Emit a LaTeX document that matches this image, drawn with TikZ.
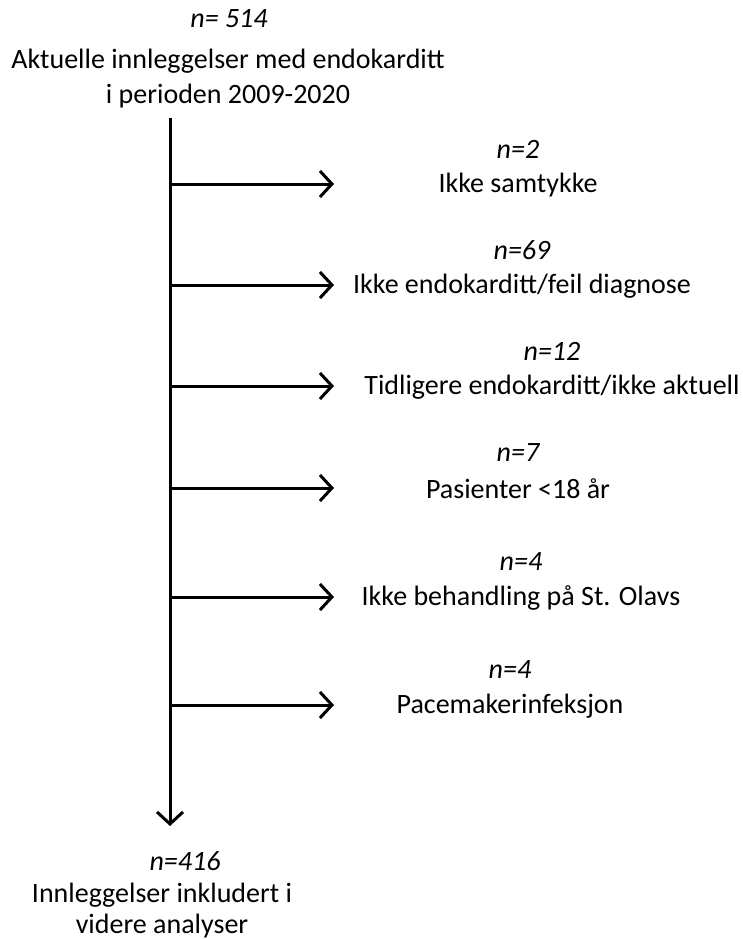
\documentclass[tikz,border=0pt]{standalone}
\usepackage{fontspec}
\setmainfont{Carlito}
\usetikzlibrary{arrows.meta}
\begin{document}
\begin{tikzpicture}[x=1pt,y=-1pt,
  lbl/.style={inner sep=0pt, font=\fontsize{28}{32}\selectfont, anchor=center},
  nlbl/.style={lbl, font=\fontsize{28}{32}\selectfont\itshape},
  flow/.style={line width=3pt, -{Straight Barb[length=12pt,width=26pt,line width=3pt]}}]
\useasboundingbox (0,0) rectangle (742,939);
% top
\node[nlbl] (n0) at (229,19) {n= 514};
\node[lbl] (t0a) at (228,61) {Aktuelle innleggelser med endokarditt};
\node[lbl] (t0b) at (228,96) {i perioden 2009-2020};
% trunk
\coordinate (s) at (170,118);
\coordinate (e) at (170,826);
\draw[flow] (s) -- (e);
% branches
\foreach \i/\y/\cx/\n/\t in {
  1/184/518/{n=2}/{Ikke samtykke},
  2/285/522/{n=69}/{Ikke endokarditt/feil diagnose},
  3/386/552/{n=12}/{Tidligere endokarditt/ikke aktuell},
  4/488/518/{n=7}/{Pasienter <18 år},
  5/597/521/{n=4}/{Ikke behandling på St. Olavs},
  6/705/510/{n=4}/{Pacemakerinfeksjon}}{
  \coordinate (b\i) at (170,\y);
  \coordinate (a\i) at (334,\y);
  \draw[flow] (b\i) -- (a\i);
  \node[nlbl] (n\i) at (\cx,\y-35) {\n};
  \node[lbl] (t\i) at (\cx,\y+1) {\t};
}
% bottom
\node[nlbl] (nb) at (185,861) {n=416};
\node[lbl] (tba) at (162,895) {Innleggelser inkludert i};
\node[lbl] (tbb) at (162,926) {videre analyser};
\end{tikzpicture}
\end{document}
